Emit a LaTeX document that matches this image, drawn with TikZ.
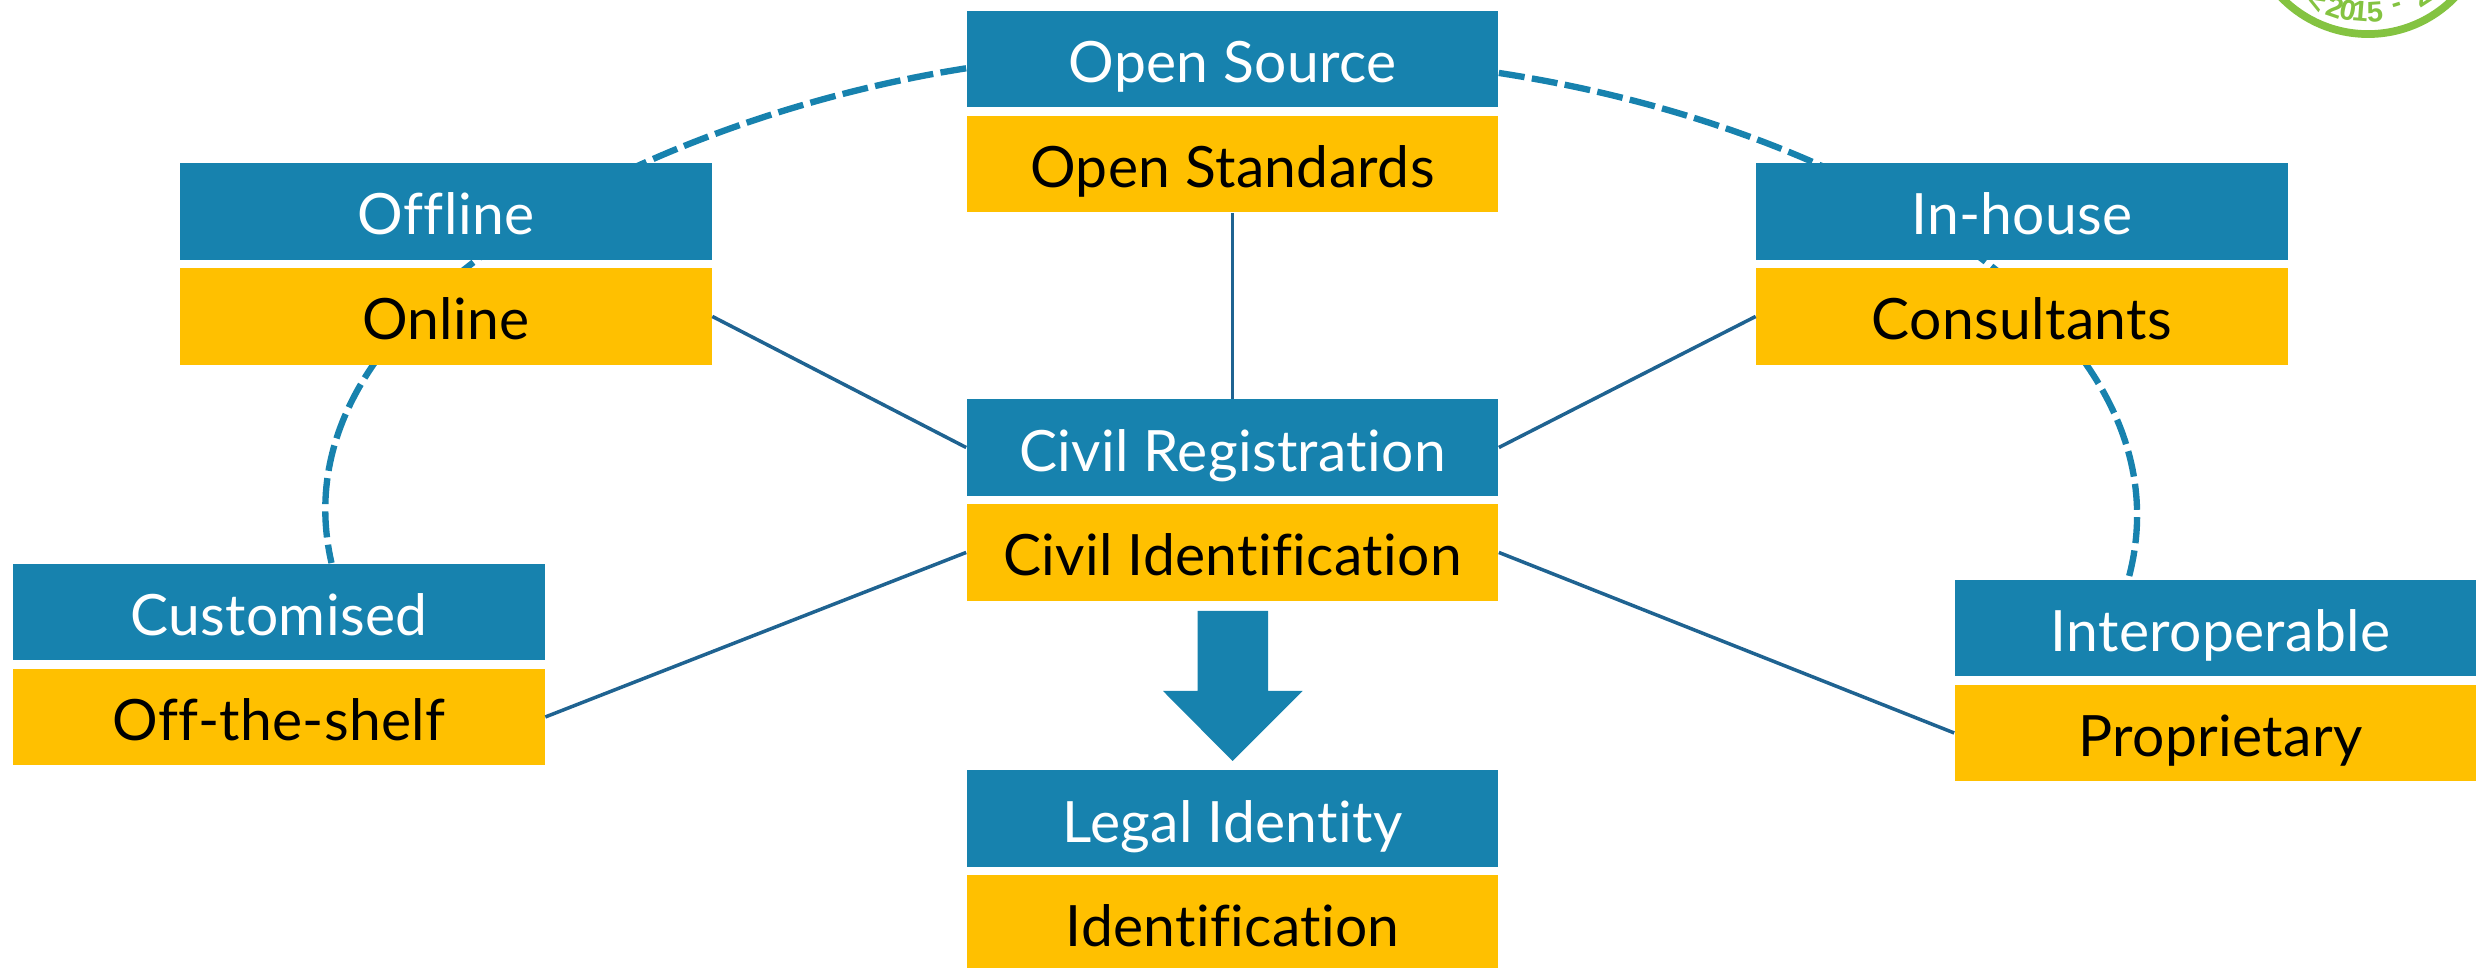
\documentclass[tikz,border=0pt]{standalone}
\usepackage{fontspec}
\setmainfont{Lato}[LetterSpace=0.6,Ligatures=NoCommon]
\newfontfamily\stampfont{Liberation Sans}[Scale=1]
\usetikzlibrary{positioning,backgrounds}
\definecolor{boxblue}{HTML}{1782AE}
\definecolor{boxyellow}{HTML}{FFC000}
\definecolor{linkblue}{HTML}{1F6391}
\definecolor{stampgreen}{HTML}{84C341}
\tikzset{
  bluebox/.style={fill=boxblue,text=white,minimum width=5.31cm,minimum height=0.965cm,inner sep=0pt,text height=0.47cm,text depth=0pt,font=\fontsize{16.2pt}{18pt}\selectfont},
  yellowbox/.style={bluebox,fill=boxyellow,text=black,below=0.07cm of #1},
  solidlink/.style={draw=linkblue,line width=1pt},
  dashlink/.style={draw=boxblue,line width=1.8pt,dash pattern=on 7.4pt off 2.1pt},
  stampdigit/.style={text=stampgreen,font=\stampfont\bfseries\fontsize{8.2pt}{8.2pt}\selectfont,inner sep=0pt}
}
\begin{document}
\begin{tikzpicture}[x=0.01cm,y=-0.01cm]

% Page frame, everything past it is cut off
\clip (0,0) rectangle (2476,968);

% Upper boxes of each pair
\node [bluebox] (opensource) at (1232.5,59) {Open Source};
\node [bluebox] (offline) at (446,211.5) {Offline};
\node [bluebox] (inhouse) at (2022,211.5) {In-house};
\node [bluebox] (civilreg) at (1232.5,447.5) {Civil Registration};
\node [bluebox] (customised) at (279,612) {Customised};
\node [bluebox] (interop) at (2220.5,628) {Interoperable};
\node [bluebox] (legal) at (1232.5,818.5) {Legal Identity};

% Lower boxes of each pair
\node [yellowbox=opensource] (openstd) {Open Standards};
\node [yellowbox=offline] (online) {Online};
\node [yellowbox=inhouse] (consultants) {Consultants};
\node [yellowbox=civilreg] (civilid) {Civil Identification};
\node [yellowbox=customised] (shelf) {Off-the-shelf};
\node [yellowbox=interop] (proprietary) {Proprietary};
\node [yellowbox=legal] (identification) {Identification};

% Spokes to the centre pair
\draw [solidlink] (openstd.south)--(civilreg.north);
\draw [solidlink] (online.east)--(civilreg.west);
\draw [solidlink] (consultants.west)--(civilreg.east);
\draw [solidlink] (shelf.east)--(civilid.west);
\draw [solidlink] (proprietary.west)--(civilid.east);

% Dashed arcs pass behind the boxes
\begin{scope}[on background layer]
\draw [dashlink] (opensource.182.6) .. controls (650,118) and (272,305) .. (customised.43);
\draw [dashlink] (opensource.-3) .. controls (1870,130) and (2195,335) .. (interop.152.5);
\end{scope}

% Block arrow down to the bottom pair
\fill [boxblue] (1197.5,611) -- (1268,611) -- (1268,691) -- (1302.5,691) -- (1232.5,761) -- (1163,691) -- (1197.5,691) -- cycle;

% Stamp in the corner
\coordinate (stamp) at (2368,-87);
\draw [stampgreen,line width=2.2pt] (stamp) circle (1.21cm);
\foreach \glyph/\ang/\rad in {{<}/-30/1.04,2/-19/1,0/-11.5/0.99,1/-4.6/0.99,5/4/0.99,-/17.5/0.99,2/33/0.99}
  \node [stampdigit,rotate=\ang] (glyph\ang) at ([shift={(\ang-90:\rad cm)}]stamp) {\glyph};

\end{tikzpicture}
\end{document}
